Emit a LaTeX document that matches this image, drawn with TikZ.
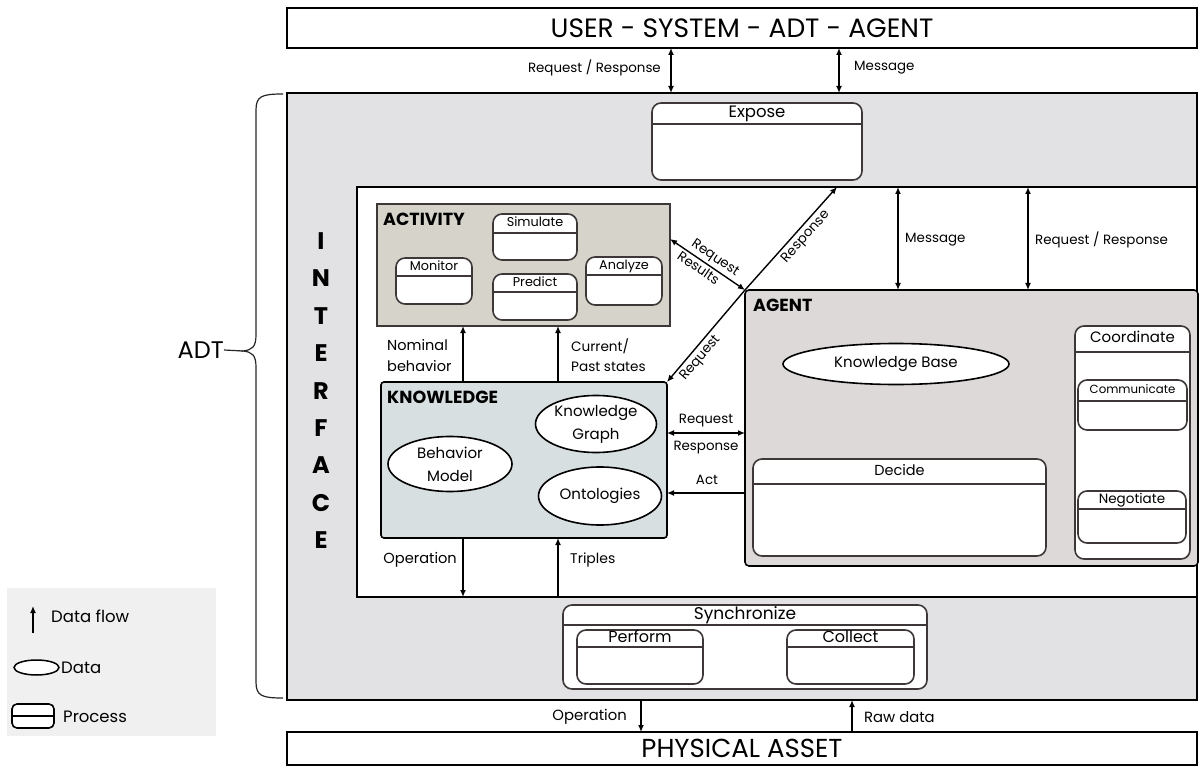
\documentclass[tikz,border=0pt]{standalone}
\usepackage{fontspec}
\setmainfont{Poppins}
\usetikzlibrary{arrows.meta,calc,shapes.geometric}

\definecolor{adtgrey}{HTML}{E2E2E4}
\definecolor{actfill}{HTML}{D6D3CB}
\definecolor{knowfill}{HTML}{D8DFE0}
\definecolor{agentfill}{HTML}{DDD9D9}
\definecolor{legendfill}{HTML}{F0F0F0}
\definecolor{procline}{HTML}{3E3737}

% font size, with and without an explicit leading
\newcommand\fsl[2]{\fontsize{#1}{#2}\selectfont}
\newcommand\fs[1]{\fontsize{#1}{#1}\selectfont}

% rounded process box with a header rule and a title
% name, x, y, width, height, header height, title, font size
\newcommand\procbox[8]{%
  \node[proc, minimum width=#4, minimum height=#5, anchor=north west] (#1) at (#2,#3) {};
  \draw[procrule] ([yshift=-#6pt]#1.north west) -- ([yshift=-#6pt]#1.north east);
  \node[font=\fs{#8}, inner sep=0pt] (#1-title) at ($(#1.north)!0.5!([yshift=-#6pt]#1.north)$) {\vphantom{Ag}#7};
}

\begin{document}
\begin{tikzpicture}[x=1pt, y=-1pt,
  >={Latex[length=7pt,width=6pt]},
  flow/.style={->, line width=1.4pt},
  both/.style={<->, line width=1.4pt},
  frame/.style={rectangle, draw=black, line width=1.3pt, inner sep=0pt, outer sep=0pt},
  proc/.style={rectangle, draw=procline, line width=1.6pt, fill=white, rounded corners=9pt, inner sep=0pt, outer sep=0pt},
  procrule/.style={draw=procline, line width=1.3pt},
  datum/.style={ellipse, draw=black, line width=1.6pt, fill=white, inner sep=0pt, outer sep=0pt, align=center, font=\fsl{15}{23}},
  lbl/.style={font=\fsl{14}{20}, inner sep=0pt, align=left},
  smlbl/.style={font=\fs{13.4}, inner sep=0pt, align=left},
  heading/.style={font=\fs{17.5}\bfseries, inner sep=0pt, anchor=west},
  legendtext/.style={font=\fs{16.5}, inner sep=0pt, anchor=west},
]
\useasboundingbox (0,0) rectangle (1199,767);

% ---- outer frames ----
\node[frame, fill=white, minimum width=910, minimum height=40, anchor=north west, font=\fs{26.5}] (user) at (287,8) {USER - SYSTEM - ADT - AGENT};
\node[frame, fill=adtgrey, minimum width=910, minimum height=607, anchor=north west] (adt) at (287,93) {};
\node[frame, fill=white, minimum width=910, minimum height=33, anchor=north west, font=\fs{26}] (phys) at (287,732) {PHYSICAL ASSET};
\node[frame, fill=white, line width=1.1pt, minimum width=840, minimum height=410, anchor=north west] (inner) at (357,187) {};

% ---- ADT brace ----
\coordinate (bracetip) at (243,351);
\draw[line width=1.2pt, draw=black!85] (283,94) .. controls (262,94) and (256,96) .. (256,110) -- (256,335)
  .. controls (256,347) and (252,350) .. (bracetip) .. controls (252,352) and (256,355) .. (256,367)
  -- (256,682) .. controls (256,696) and (262,698) .. (283,698);
\node[font=\fs{24}, inner sep=0pt, anchor=east] (adtlabel) at (224,350) {ADT};
\draw[line width=1.2pt, draw=black!85] (adtlabel.east) -- (bracetip);

% ---- INTERFACE ----
\foreach \ch [count=\i from 0] in {I,N,T,E,R,F,A,C,E}
  \node[font=\fs{24}\bfseries, inner sep=0pt] (iface\i) at (321,241+37.4*\i) {\ch};

% ---- Expose ----
\procbox{expose}{652}{103}{210}{77}{21}{Expose}{16.5}

% ---- ACTIVITY ----
\node[rectangle, draw=procline, line width=1.8pt, fill=actfill, minimum width=293, minimum height=122, anchor=north west, inner sep=0pt, outer sep=0pt] (act) at (377,204) {};
\node[heading] (acttitle) at (383,219) {ACTIVITY};
\procbox{simulate}{493}{214}{84}{46}{19}{Simulate}{12.8}
\procbox{monitor}{396}{258}{76}{46}{18}{Monitor}{12.8}
\procbox{predict}{493}{274}{84}{46}{18}{Predict}{12.8}
\procbox{analyze}{586}{257}{76}{48}{18}{Analyze}{12.8}

% ---- KNOWLEDGE ----
\node[rectangle, draw=black, line width=1.6pt, fill=knowfill, rounded corners=3pt, minimum width=286, minimum height=156, anchor=north west, inner sep=0pt, outer sep=0pt] (know) at (381,382) {};
\node[heading] (knowtitle) at (387,397) {KNOWLEDGE};
\node[datum, minimum width=121, minimum height=57] (kgraph) at (596,424) {Knowledge\\Graph};
\node[datum, minimum width=124, minimum height=55] (bmodel) at (450,464) {Behavior\\Model};
\node[datum, minimum width=123, minimum height=58] (onto) at (600,496) {Ontologies};

% ---- AGENT ----
\node[rectangle, draw=black, line width=1.6pt, fill=agentfill, rounded corners=4pt, minimum width=453, minimum height=276, anchor=north west, inner sep=0pt, outer sep=0pt] (agent) at (745,290) {};
\node[heading] (agenttitle) at (753,305) {AGENT};
\node[datum, minimum width=226, minimum height=41] (kbase) at (896,364) {Knowledge Base};
\procbox{decide}{753}{459}{293}{97}{25}{Decide}{14.5}
\procbox{coord}{1075}{326}{115}{233}{26}{Coordinate}{15}
\procbox{comm}{1078}{380}{109}{50}{21}{Communicate}{11.8}
\procbox{nego}{1078}{491}{108}{52}{18}{Negotiate}{13.5}

% ---- Synchronize ----
\procbox{sync}{563}{605}{364}{84}{20}{Synchronize}{17}
\procbox{perform}{577}{630}{126}{54}{17}{Perform}{16}
\procbox{collect}{787}{630}{127}{54}{17}{Collect}{16}

% ---- connectors: top ----
\coordinate (xTopRR) at (671,0);
\coordinate (xTopMsg) at (839,0);
\draw[both] (user.south -| xTopRR) -- (adt.north -| xTopRR);
\node[smlbl, anchor=east] (lTopRR) at (661,68) {Request / Response};
\draw[both] (user.south -| xTopMsg) -- (adt.north -| xTopMsg);
\node[smlbl, anchor=west] (lTopMsg) at (854,68) {Message};

% ---- connectors: knowledge -> activity ----
\coordinate (xNom) at (463,0);
\coordinate (xCur) at (558,0);
\draw[flow] (know.north -| xNom) -- (act.south -| xNom);
\node[lbl, font=\fsl{14.5}{21}, anchor=west] (lNom) at (387,356) {Nominal\\behavior};
\draw[flow] (know.north -| xCur) -- (act.south -| xCur);
\node[lbl, font=\fsl{13.6}{20}, anchor=west] (lCur) at (571,355) {Current/\\Past states};

% ---- connectors: knowledge <-> inner frame ----
\draw[flow] (know.south -| xNom) -- (inner.south -| xNom);
\node[lbl, font=\fs{14.6}, anchor=east] (lOp) at (457,560) {Operation};
\draw[flow] (inner.south -| xCur) -- (know.south -| xCur);
\node[lbl, anchor=west] (lTri) at (570,560) {Triples};

% ---- connectors: knowledge <-> agent ----
\coordinate (yRR) at (0,433);
\coordinate (yAct) at (0,493);
\draw[both] (know.east |- yRR) -- (agent.west |- yRR);
\node[smlbl] (lKReq) at (706,421) {Request};
\node[smlbl] (lKResp) at (706,448) {Response};
\draw[flow] (agent.west |- yAct) -- (know.east |- yAct);
\node[smlbl] (lAct) at (707,480) {Act};

% ---- diagonal connectors ----
\coordinate (yActR) at (0,239);
\coordinate (xResp) at (837,0);
\draw[both] (act.east |- yActR) -- node[smlbl, sloped, above=2pt, pos=0.53] {Request} node[smlbl, sloped, below=2pt, pos=0.44] {Results} (agent.north west);
\draw[flow] (agent.north west) -- node[smlbl, sloped, below=3pt, pos=0.58] {Response} (inner.north -| xResp);
\draw[<-, line width=1.4pt] (know.north east) -- node[smlbl, sloped, below=3pt, pos=0.33] {Request} (agent.north west);

% ---- connectors: inner frame <-> agent ----
\coordinate (xMsg) at (898,0);
\coordinate (xARR) at (1028,0);
\draw[both] (inner.north -| xMsg) -- (agent.north -| xMsg);
\node[smlbl, anchor=west] (lMsg) at (905,240) {Message};
\draw[both] (inner.north -| xARR) -- (agent.north -| xARR);
\node[smlbl, anchor=west] (lARR) at (1035,240) {Request / Response};

% ---- connectors: bottom ----
\coordinate (xOp) at (641,0);
\coordinate (xRaw) at (852,0);
\draw[flow] (adt.south -| xOp) -- (phys.north -| xOp);
\node[lbl, font=\fs{14.8}, anchor=east] (lBOp) at (627,717) {Operation};
\draw[flow] (phys.north -| xRaw) -- (adt.south -| xRaw);
\node[lbl, font=\fs{14.8}, anchor=west] (lRaw) at (864,717) {Raw data};

% ---- legend ----
\node[rectangle, fill=legendfill, minimum width=209, minimum height=148, anchor=north west, inner sep=0pt] (legend) at (7,588) {};
\coordinate (lgA0) at (33,633);
\coordinate (lgA1) at (33,606);
\draw[flow] (lgA0) -- (lgA1);
\node[legendtext] (lgFlow) at (51,616) {Data flow};
\node[datum, line width=1.5pt, minimum width=45, minimum height=15] (lgData) at (36.5,667.5) {};
\node[legendtext] (lgDataT) at (61,668) {Data};
\node[rectangle, draw=black, line width=1.6pt, fill=white, rounded corners=5pt, minimum width=42, minimum height=24, anchor=north west, inner sep=0pt, outer sep=0pt] (lgProc) at (12,704) {};
\draw[line width=1.3pt] ([yshift=-12pt]lgProc.north west) -- ([yshift=-12pt]lgProc.north east);
\node[legendtext] (lgProcT) at (63,717) {Process};
\end{tikzpicture}
\end{document}
